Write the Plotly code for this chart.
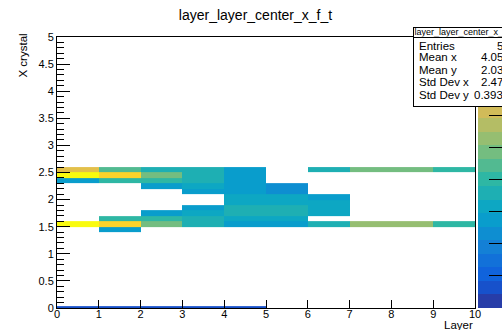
import plotly.graph_objects as go

# ---- histogram content: layer (x) vs X crystal (y) ----
layer_edges = [0, 1, 2, 3, 4, 5, 6, 7, 8, 9, 10]
crystal_edges = [0, 0.037, 1.4, 1.5, 1.6, 1.7, 1.8, 1.9, 2.0, 2.1, 2.2, 2.3, 2.4, 2.5, 2.6]

N = None
# one list per crystal bin (bottom to top), one entry per layer bin
row_00_004 = [70, 70, 70, 70, 70, N, N, N, N, N]
row_004_14 = [N, N, N, N, N, N, N, N, N, N]
row_14_15 = [N, 275, N, N, N, N, N, N, N, N]
row_15_16 = [840, 740, 485, 360, 275, 275, 360, 530, 530, 400]
row_16_17 = [N, 400, 390, 360, 315, 315, N, N, N, N]
row_17_18 = [N, N, 275, 315, 360, 360, 315, N, N, N]
row_18_19 = [N, N, N, 275, 360, 360, 315, N, N, N]
row_19_20 = [N, N, N, N, 315, 315, 315, N, N, N]
row_20_21 = [N, N, N, N, 315, 315, 275, N, N, N]
row_21_22 = [N, N, N, 275, 260, 230, N, N, N, N]
row_22_23 = [N, N, 275, 315, 260, 230, N, N, N, N]
row_23_24 = [275, 400, 400, 360, 275, N, N, N, N, N]
row_24_25 = [840, 740, 485, 360, 275, N, N, N, N, N]
row_25_26 = [650, 445, 360, 340, 275, N, 360, 485, 485, 400]

z_rows = [row_00_004, row_004_14, row_14_15, row_15_16, row_16_17, row_17_18,
          row_18_19, row_19_20, row_20_21, row_21_22, row_22_23, row_23_24,
          row_24_25, row_25_26]

z_min, z_max = 0, 845
n_contours = 20

x_ticks = list(range(0, 11))

stats_title = "layer_layer_center_x_f_t"
stats_labels = ["Entries", "Mean x", "Mean y", "Std Dev x", "Std Dev y"]
stats_values = ["54", "4.057", "2.033", "2.473", "0.3934"]

# ---- kBird palette, banded like a 20-level COLZ palette ----
bird_stops = [0.0, 0.125, 0.25, 0.375, 0.5, 0.625, 0.75, 0.875, 1.0]
bird_r = [0.2082, 0.0592, 0.0780, 0.0232, 0.1802, 0.5301, 0.8186, 0.9956, 0.9764]
bird_g = [0.1664, 0.3599, 0.5041, 0.6419, 0.7178, 0.7492, 0.7328, 0.7862, 0.9832]
bird_b = [0.5293, 0.8684, 0.8385, 0.7914, 0.6425, 0.4662, 0.3499, 0.1968, 0.0539]


def bird(f):
    f = min(max(f, 0.0), 1.0)
    for k in range(len(bird_stops) - 1):
        a, b = bird_stops[k], bird_stops[k + 1]
        if f <= b:
            t = (f - a) / (b - a)
            r = bird_r[k] + t * (bird_r[k + 1] - bird_r[k])
            g = bird_g[k] + t * (bird_g[k + 1] - bird_g[k])
            bl = bird_b[k] + t * (bird_b[k + 1] - bird_b[k])
            return f"rgb({round(r * 255)},{round(g * 255)},{round(bl * 255)})"
    return "rgb(249,251,14)"


colorscale = []
for i in range(n_contours):
    idx = int((i + 0.99) * 255 / n_contours)
    c = bird(min(idx, 254) / 254)
    colorscale.append([i / n_contours, c])
    colorscale.append([(i + 1) / n_contours, c])

# ---- geometry helpers (pixel -> paper) ----
W, H = 502, 330
L, R, T, B = 57, 27, 37, 22
PW, PH = W - L - R, H - T - B


def px(x):
    return (x - L) / PW


def py(y):
    return (H - B - y) / PH


FONT = "Liberation Sans, Arial, Helvetica, sans-serif"

fig = go.Figure()
fig.add_trace(go.Heatmap(
    x=layer_edges, y=crystal_edges, z=z_rows,
    zmin=z_min, zmax=z_max, zsmooth=False,
    colorscale=colorscale, hoverongaps=False,
    colorbar=dict(
        x=px(478), xref="paper", xanchor="left", xpad=0,
        y=0.5, yanchor="middle", ypad=0, len=1, lenmode="fraction",
        thickness=28, outlinewidth=0,
        ticks="inside", ticklen=17, tickwidth=1, tickcolor="black",
        tick0=0, dtick=100, showticklabels=False,
    ),
))

fig.update_xaxes(
    range=[0, 10], tickvals=x_ticks, ticks="inside", ticklen=8, tickwidth=1,
    tickcolor="black", showline=True, linecolor="black", linewidth=1, mirror=True,
    showgrid=False, zeroline=False, ticklabelstandoff=-4,
    tickfont=dict(family=FONT, size=11, color="black"),
)
fig.update_yaxes(
    range=[0, 5], dtick=0.5, tick0=0, ticks="inside", ticklen=13, tickwidth=1,
    tickcolor="black", showline=True, linecolor="black", linewidth=1, mirror=True,
    showgrid=False, zeroline=False, tickfont=dict(family=FONT, size=11, color="black"),
    minor=dict(dtick=0.1, ticks="inside", ticklen=7, tickcolor="black", tickwidth=1),
)

ann = []
# axis titles
ann.append(dict(text="X crystal", textangle=-90, xref="paper", yref="paper",
                x=px(22.5), y=py(56), xanchor="center", yanchor="middle",
                showarrow=False, font=dict(family=FONT, size=11.5, color="black")))
ann.append(dict(text="Layer", xref="paper", yref="paper",
                x=px(475), y=py(325), xanchor="right", yanchor="middle",
                showarrow=False, font=dict(family=FONT, size=11.5, color="black")))
# statistics box
box_l, box_t, box_w = 412.5, 27.5, 100
ann.append(dict(text=" ", xref="paper", yref="paper", x=px(box_l), y=py(box_t),
                xanchor="left", yanchor="top", width=box_w, height=78,
                bgcolor="white", bordercolor="black", borderwidth=1, borderpad=0,
                showarrow=False, font=dict(size=1)))
ann.append(dict(text=stats_title, xref="paper", yref="paper", x=px(box_l), y=py(box_t),
                xanchor="left", yanchor="top", width=box_w, height=8.5,
                bgcolor="white", bordercolor="black", borderwidth=1, borderpad=0,
                align="center", valign="middle",
                showarrow=False, font=dict(family=FONT, size=9, color="black")))
row_y = [45.8, 57.5, 70.0, 82.5, 95.2]
for lab, val, yy in zip(stats_labels, stats_values, row_y):
    ann.append(dict(text=lab, xref="paper", yref="paper", x=px(417), y=py(yy),
                    xanchor="left", yanchor="middle", showarrow=False,
                    font=dict(family=FONT, size=11.5, color="black")))
    ann.append(dict(text=val, xref="paper", yref="paper", x=px(512), y=py(yy),
                    xanchor="right", yanchor="middle", showarrow=False,
                    font=dict(family=FONT, size=11.5, color="black")))

fig.update_layout(
    width=W, height=H,
    margin=dict(l=L, r=R, t=T, b=B, autoexpand=False),
    paper_bgcolor="white", plot_bgcolor="white",
    title=dict(text="layer_layer_center_x_f_t", x=255.5 / W, xref="container",
               xanchor="center", y=1 - 15 / H, yref="container", yanchor="middle",
               font=dict(family=FONT, size=14, color="black")),
    annotations=ann,
    showlegend=False,
)

fig.write_html("out.html")
